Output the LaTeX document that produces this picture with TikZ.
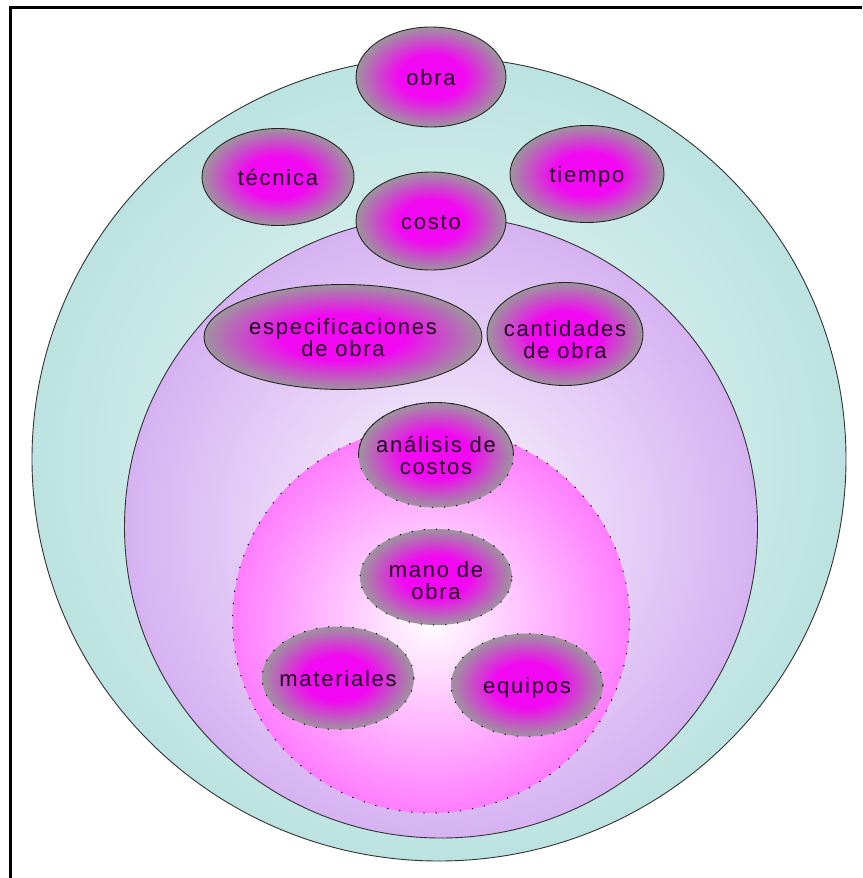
\documentclass[tikz,border=0pt]{standalone}
\usepackage{fontspec}
\setmainfont{Liberation Sans}
\newfontfamily\labfont[LetterSpace=8]{Liberation Sans}
\usetikzlibrary{shapes.geometric}
\definecolor{mag}{RGB}{242,8,242}
\definecolor{grayedge}{RGB}{158,148,158}
\definecolor{tealedge}{RGB}{188,227,225}
\definecolor{tealin}{RGB}{236,247,246}
\definecolor{purpedge}{RGB}{214,178,242}
\definecolor{purpin}{RGB}{252,248,254}
\definecolor{pinkedge}{RGB}{255,125,255}
\definecolor{txt}{RGB}{30,0,30}
\newcommand\bubtext[2][4pt]{\raisebox{0pt}[\dimexpr\height+2\dimexpr#1\relax\relax][\depth]{\makebox[0pt]{\begin{tabular}{@{}c@{}}#2\end{tabular}}}}
\pgfdeclareradialshading{ellshade}{\pgfpoint{0bp}{0bp}}{color(0bp)=(mag); color(11bp)=(mag); color(25bp)=(grayedge); color(50bp)=(grayedge)}
\tikzset{
  ring/.style={ellipse, inner sep=0pt, outer sep=0pt, draw=black!80, line width=0.9pt},
  bubble/.style={ellipse, shading=ellshade, inner sep=0pt, outer sep=0pt,
    font=\labfont\fontsize{22}{22}\selectfont, text=txt},
  solidline/.style={draw=black!85, line width=0.9pt},
  dotline/.style={draw=black, line width=1pt, dash pattern=on 1.2pt off 11pt},
}
\begin{document}
\begin{tikzpicture}[x=1pt,y=-1pt]
\useasboundingbox (0,0) rectangle (862,878);
\fill[white] (0,0) rectangle (862,878);
\draw[line width=3pt] (10,878) -- (10,7) -- (862,7);
% nested circles
\node[ring, minimum width=814pt, minimum height=804pt, inner color=tealin, outer color=tealedge] (outer) at (439,459) {};
\node[ring, minimum width=633pt, minimum height=622pt, inner color=purpin, outer color=purpedge] (middle) at (441,527) {};
\node[ellipse, inner sep=0pt, outer sep=0pt, minimum width=397pt, minimum height=386pt, inner color=white, outer color=pinkedge, dotline] (inner) at (431,620) {};
% bubbles
\node[bubble, solidline, minimum width=150pt, minimum height=100pt] (obra) at (431,77) {\bubtext{obra}};
\node[bubble, solidline, minimum width=152pt, minimum height=97pt] (tecnica) at (278,177) {\bubtext{técnica}};
\node[bubble, solidline, minimum width=154pt, minimum height=97pt] (tiempo) at (587,174) {\bubtext{tiempo}};
\node[bubble, solidline, minimum width=150pt, minimum height=98pt] (costo) at (431,221) {\bubtext{costo}};
\node[bubble, solidline, minimum width=278pt, minimum height=105pt] (espec) at (343,337) {\bubtext{especificaciones\\de obra}};
\node[bubble, solidline, minimum width=156pt, minimum height=103pt] (cant) at (565,334) {\bubtext[9pt]{cantidades\\de obra}};
\node[bubble, dotline, minimum width=155pt, minimum height=105pt] (ana) at (436,455) {\bubtext{análisis de\\costos}};
\begin{scope}
  \clip (300,380) rectangle (580,455);
  \draw[solidline] (ana.center) ellipse [x radius=77.5, y radius=52.5];
\end{scope}
\node[bubble, dotline, minimum width=152pt, minimum height=96pt] (mano) at (436,577) {\bubtext[7pt]{mano de\\obra}};
\node[bubble, dotline, minimum width=152pt, minimum height=103pt] (mat) at (338,678) {\bubtext{materiales}};
\node[bubble, dotline, minimum width=152pt, minimum height=103pt] (equi) at (527,685) {\bubtext{equipos}};
\end{tikzpicture}
\end{document}
